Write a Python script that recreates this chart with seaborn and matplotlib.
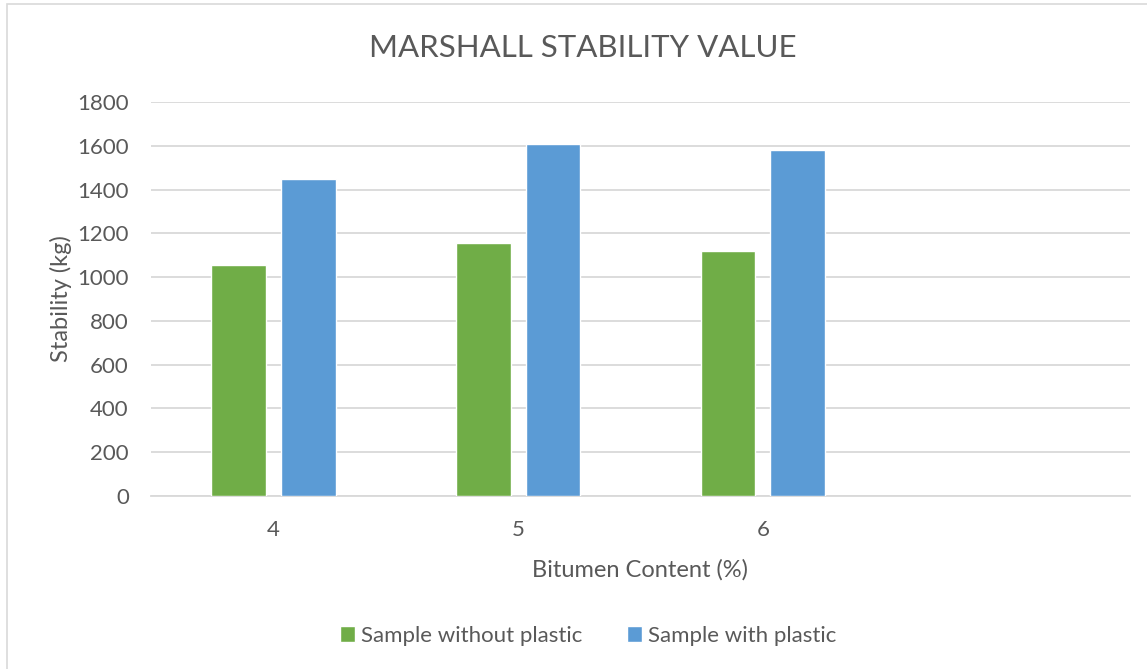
import pandas as pd
import seaborn as sns
import matplotlib.pyplot as plt
from matplotlib.patches import Rectangle

# datos
contenido_bitumen = ["4", "5", "6"]
sin_plastico = [1055, 1155, 1120]
con_plastico = [1450, 1610, 1580]
series = ["Sample without plastic", "Sample with plastic"]
colores = ["#70AD47", "#5B9BD5"]
ticks_y = [0, 200, 400, 600, 800, 1000, 1200, 1400, 1600, 1800]

df = pd.DataFrame({
    "bitumen": contenido_bitumen * 2,
    "stability": sin_plastico + con_plastico,
    "serie": [series[0]] * 3 + [series[1]] * 3,
})

sns.set_theme(style="white")
plt.rcParams["font.family"] = ["Lato", "DejaVu Sans"]
gris = "#595959"

fig = plt.figure(figsize=(11.47, 6.69), dpi=100)
ax = fig.add_axes([151 / 1147, 173 / 669, (1130 - 151) / 1147, (567 - 173) / 669])

# marco del grafico
fig.patches.append(Rectangle((7 / 1147, -0.1), 1.2, 665 / 669 + 0.1,
                             transform=fig.transFigure, fill=False,
                             edgecolor="#d9d9d9", linewidth=1.2))

sns.barplot(data=df, x="bitumen", y="stability", hue="serie",
            order=contenido_bitumen + [""], hue_order=series,
            palette=colores, width=0.571, gap=0.216, errorbar=None,
            saturation=1, ax=ax, zorder=3)

ax.set_ylim(0, 1800)
ax.set_yticks(ticks_y)
ax.grid(axis="y", color="#d9d9d9", linewidth=1.3, zorder=0)
ax.set_axisbelow(True)
for lado in ["top", "right", "left"]:
    ax.spines[lado].set_visible(False)
ax.spines["bottom"].set_color("#d9d9d9")
ax.spines["bottom"].set_linewidth(1.3)
ax.tick_params(axis="both", length=0, labelsize=16, labelcolor=gris)
ax.tick_params(axis="x", pad=17)
ax.tick_params(axis="y", pad=16)

ax.set_xlabel("Bitumen Content (%)", fontsize=17, color=gris, labelpad=14)
ax.set_ylabel("Stability (kg)", fontsize=17, color=gris, labelpad=4)

fig.text(583 / 1147, 1 - 48 / 669, "MARSHALL STABILITY VALUE", fontsize=22.5,
         color=gris, ha="center", va="center")

ax.legend(loc="center", bbox_to_anchor=(588 / 1147, 1 - 636 / 669),
          bbox_transform=fig.transFigure, ncol=2, frameon=False,
          fontsize=16, labelcolor=gris, handlelength=0.7, handleheight=0.7,
          handletextpad=0.25, columnspacing=2.0)

plt.savefig("out.png", dpi=100)
plt.close()
